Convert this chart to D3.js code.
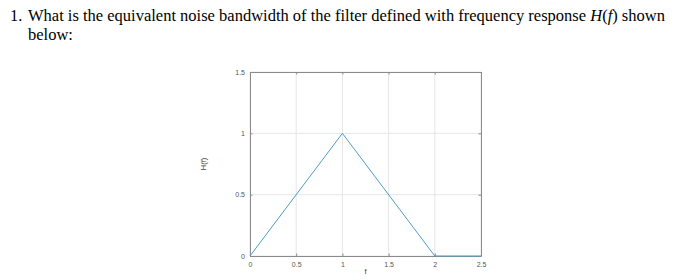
<!DOCTYPE html>
<html>
<head>
<meta charset="utf-8">
<script src="https://cdn.jsdelivr.net/npm/d3@7"></script>
<style>
body { margin: 0; background: #fff; }
</style>
</head>
<body>
<svg id="chart" width="695" height="280" font-family="'Liberation Sans', Arial, sans-serif"></svg>
<script>
// triangle response H(f)
var freq = [0, 1, 2, 2.5];
var gain = [0, 1, 0, 0];
var xTicks = [0, 0.5, 1, 1.5, 2, 2.5];
var yTicks = [0, 0.5, 1, 1.5];

var svg = d3.select("#chart");
var serif = "'Liberation Serif', 'Times New Roman', serif";

// question text above the plot
var q = svg.append("text").style("font-family", serif)
	.attr("font-size", "16.5px").attr("fill", "#000");
q.append("tspan").attr("x", 10).attr("y", 21).text("1.");
q.append("tspan").attr("x", 28).attr("y", 21).text("What is the equivalent noise bandwidth of the filter defined with frequency response ");
q.append("tspan").attr("font-style", "italic").text("H");
q.append("tspan").text("(");
q.append("tspan").attr("font-style", "italic").text("f");
q.append("tspan").text(") shown");
svg.append("text").style("font-family", serif)
	.attr("font-size", "16.5px").attr("x", 28).attr("y", 40).text("below:");

var plotLeft = 250, plotRight = 481, plotTop = 72, plotBottom = 256;
var x = d3.scaleLinear().domain([0, 2.5]).range([plotLeft, plotRight]);
var y = d3.scaleLinear().domain([0, 1.5]).range([plotBottom, plotTop]);

// grid
svg.append("g").selectAll("line").data(xTicks).enter().append("line")
	.attr("x1", function(d){ return x(d); }).attr("x2", function(d){ return x(d); })
	.attr("y1", plotTop).attr("y2", plotBottom).attr("stroke", "#e6e6e6").attr("stroke-width", 1);
svg.append("g").selectAll("line").data(yTicks).enter().append("line")
	.attr("x1", plotLeft).attr("x2", plotRight)
	.attr("y1", function(d){ return y(d); }).attr("y2", function(d){ return y(d); })
	.attr("stroke", "#e6e6e6").attr("stroke-width", 1);

// axes with inward ticks on all four sides
function styleAxis(g){
	g.selectAll("path").attr("stroke", "#8a8a8a");
	g.selectAll("line").attr("stroke", "#8a8a8a");
	g.selectAll("text").attr("fill", "#555").attr("font-size", "7px");
}
svg.append("g").attr("transform", "translate(0," + plotBottom + ")")
	.call(d3.axisBottom(x).tickValues(xTicks).tickSizeInner(-2.5).tickSizeOuter(0).tickPadding(6).tickFormat(d3.format("")))
	.call(styleAxis);
svg.append("g").attr("transform", "translate(" + plotLeft + ",0)")
	.call(d3.axisLeft(y).tickValues(yTicks).tickSizeInner(-2.5).tickSizeOuter(0).tickPadding(5).tickFormat(d3.format("")))
	.call(styleAxis);
svg.append("g").attr("transform", "translate(0," + plotTop + ")")
	.call(d3.axisTop(x).tickValues(xTicks).tickSizeInner(-2.5).tickSizeOuter(0).tickFormat(""))
	.call(styleAxis);
svg.append("g").attr("transform", "translate(" + plotRight + ",0)")
	.call(d3.axisRight(y).tickValues(yTicks).tickSizeInner(-2.5).tickSizeOuter(0).tickFormat(""))
	.call(styleAxis);
svg.selectAll("g").attr("font-family", null);

// response curve
var line = d3.line().x(function(d, i){ return x(freq[i]); }).y(function(d){ return y(d); });
svg.append("path").datum(gain).attr("d", line)
	.attr("fill", "none").attr("stroke", "#4f9cc8").attr("stroke-width", 1);

// axis labels
svg.append("text").attr("x", x(1.25)).attr("y", 274).attr("text-anchor", "middle")
	.attr("font-size", "7.5px").attr("fill", "#444").text("f");
svg.append("text").attr("transform", "translate(206," + y(0.75) + ") rotate(-90)")
	.attr("text-anchor", "middle").attr("font-size", "7.5px").attr("fill", "#444").text("H(f)");
</script>
</body>
</html>
